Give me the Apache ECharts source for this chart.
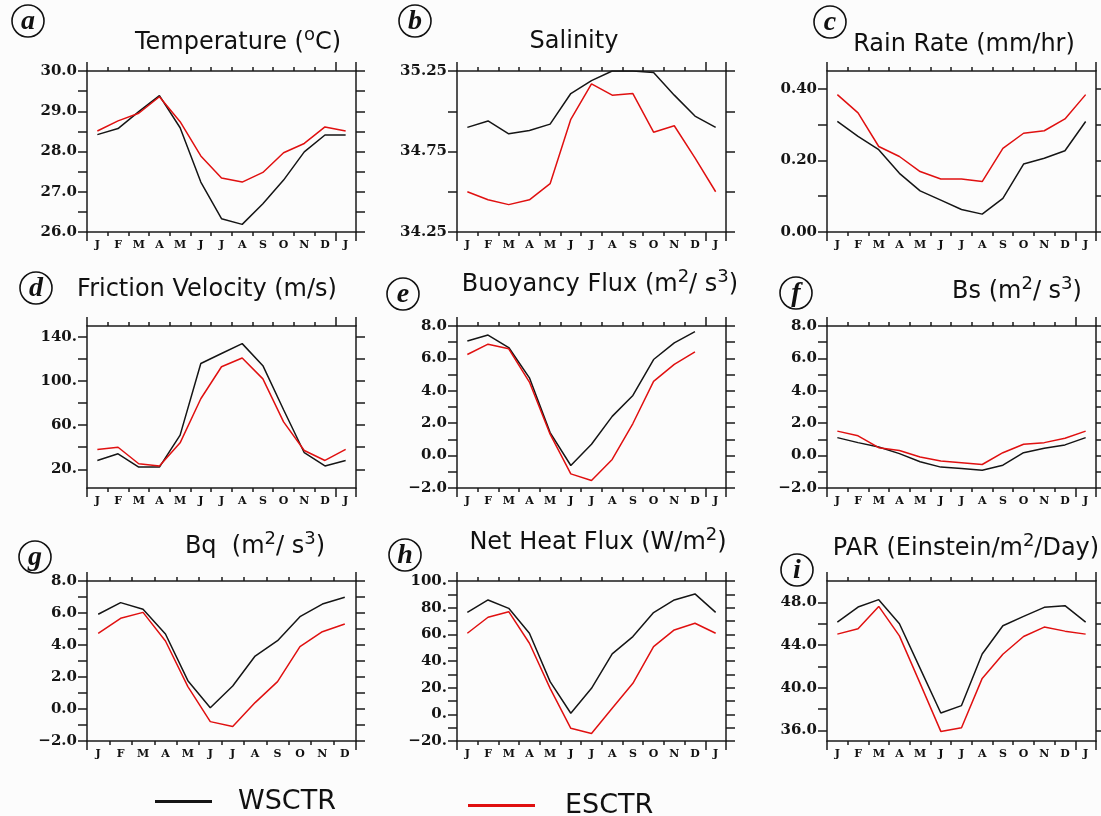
<!DOCTYPE html>
<html><head><meta charset="utf-8">
<script src="https://cdn.jsdelivr.net/npm/echarts@6/dist/echarts.min.js"></script>
<style>html,body{margin:0;padding:0;background:#fcfcfc}#c{width:1101px;height:816px}</style>
</head><body><div id="c"></div>
<script>
// ---------- data ----------
const months13 = ['J','F','M','A','M','J','J','A','S','O','N','D','J'];
const months12 = ['J','F','M','A','M','J','J','A','S','O','N','D'];

const tempW = [28.42, 28.57, 28.99, 29.39, 28.59, 27.24, 26.33, 26.19, 26.70, 27.29, 27.99, 28.41, 28.41];
const tempE = [28.51, 28.76, 28.95, 29.36, 28.74, 27.89, 27.34, 27.24, 27.48, 27.97, 28.20, 28.61, 28.51];
const salW  = [34.90, 34.94, 34.86, 34.88, 34.92, 35.11, 35.19, 35.25, 35.25, 35.24, 35.10, 34.97, 34.90];
const salE  = [34.50, 34.45, 34.42, 34.45, 34.55, 34.95, 35.17, 35.10, 35.11, 34.87, 34.91, 34.71, 34.50];
const rainW = [0.309, 0.267, 0.230, 0.164, 0.115, 0.089, 0.063, 0.050, 0.094, 0.190, 0.206, 0.227, 0.309];
const rainE = [0.384, 0.333, 0.239, 0.211, 0.169, 0.148, 0.148, 0.141, 0.234, 0.276, 0.283, 0.316, 0.384];
const ustarW = [28, 34, 22, 22, 51, 116, 125, 134, 114, 74, 35, 23, 28];
const ustarE = [38, 40, 25, 23, 44, 84, 113, 121, 102, 63, 37, 28, 38];
const buoyW = [7.07, 7.44, 6.67, 4.80, 1.42, -0.61, 0.70, 2.42, 3.71, 5.93, 6.96, 7.65, null];
const buoyE = [6.24, 6.88, 6.59, 4.54, 1.32, -1.13, -1.54, -0.24, 1.98, 4.58, 5.63, 6.40, null];
const bsW = [1.11, 0.80, 0.53, 0.12, -0.38, -0.71, -0.80, -0.90, -0.59, 0.18, 0.45, 0.66, 1.11];
const bsE = [1.51, 1.22, 0.49, 0.32, -0.09, -0.34, -0.44, -0.55, 0.18, 0.70, 0.80, 1.07, 1.51];
const bqW = [5.92, 6.65, 6.23, 4.69, 1.77, 0.08, 1.44, 3.31, 4.27, 5.77, 6.56, 6.98];
const bqE = [4.73, 5.67, 6.04, 4.25, 1.40, -0.79, -1.10, 0.40, 1.71, 3.90, 4.83, 5.31];
const heatW = [76.5, 85.8, 79.5, 60.8, 24.5, 0.8, 19.5, 45.3, 58.3, 76.3, 85.8, 90.3, 76.5];
const heatE = [60.8, 72.8, 77.0, 53.3, 19.5, -10.5, -14.3, 4.5, 23.3, 50.8, 63.3, 68.3, 60.8];
const parW = [46.15, 47.56, 48.25, 45.99, 41.81, 37.63, 38.32, 43.16, 45.80, 46.68, 47.53, 47.69, 46.15];
const parE = [45.02, 45.52, 47.62, 44.86, 40.40, 35.90, 36.25, 40.87, 43.13, 44.80, 45.68, 45.30, 45.02];

// tick values and labelled tick values
const tempTicks = [26, 26.5, 27, 27.5, 28, 28.5, 29, 29.5, 30];
const tempLabels = [26, 27, 28, 29, 30];
const salTicks = [34.25, 34.5, 34.75, 35, 35.25];
const salLabels = [34.25, 34.75, 35.25];
const rainTicks = [0, 0.1, 0.2, 0.3, 0.4];
const rainLabels = [0, 0.2, 0.4];
const ustarTicks = [20, 40, 60, 80, 100, 120, 140];
const ustarLabels = [20, 60, 100, 140];
const fluxTicks = [-2, -1, 0, 1, 2, 3, 4, 5, 6, 7, 8];
const fluxLabels = [-2, 0, 2, 4, 6, 8];
const heatTicks = [-20, -10, 0, 10, 20, 30, 40, 50, 60, 70, 80, 90, 100];
const heatLabels = [-20, 0, 20, 40, 60, 80, 100];
const parTicks = [36, 38, 40, 42, 44, 46, 48];
const parLabels = [36, 40, 44, 48];

const seriesNames = ['WSCTR', 'ESCTR'];

// ---------- layout ----------
const minus = s => s.replace('-', '\u2212');
const f1 = v => minus(v.toFixed(1));
const f2 = v => minus(v.toFixed(2));
const fdot = v => minus(String(v) + '.');

const panels = [
  {left: 87,  top: 71,  h: 161, cats: months13, w: tempW,  e: tempE,  min: 26,    max: 30,    ticks: tempTicks,  labels: tempLabels,  fmt: f1},
  {left: 457, top: 71,  h: 161, cats: months13, w: salW,   e: salE,   min: 34.25, max: 35.25, ticks: salTicks,   labels: salLabels,   fmt: f2},
  {left: 827, top: 71,  h: 161, cats: months13, w: rainW,  e: rainE,  min: 0,     max: 0.45,  ticks: rainTicks,  labels: rainLabels,  fmt: f2},
  {left: 87,  top: 326, h: 162, cats: months13, w: ustarW, e: ustarE, min: 3,     max: 150,   ticks: ustarTicks, labels: ustarLabels, fmt: fdot},
  {left: 457, top: 326, h: 162, cats: months13, w: buoyW,  e: buoyE,  min: -2,    max: 8,     ticks: fluxTicks,  labels: fluxLabels,  fmt: f1},
  {left: 827, top: 326, h: 162, cats: months13, w: bsW,    e: bsE,    min: -2,    max: 8,     ticks: fluxTicks,  labels: fluxLabels,  fmt: f1},
  {left: 87,  top: 581, h: 160, cats: months12, w: bqW,    e: bqE,    min: -2,    max: 8,     ticks: fluxTicks,  labels: fluxLabels,  fmt: f1},
  {left: 457, top: 581, h: 160, cats: months13, w: heatW,  e: heatE,  min: -20,   max: 100,   ticks: heatTicks,  labels: heatLabels,  fmt: fdot},
  {left: 827, top: 581, h: 160, cats: months13, w: parW,   e: parE,   min: 35,    max: 50,    ticks: parTicks,   labels: parLabels,   fmt: f1}
];

const titles = [
  {x: 238, y: 43,  t: 'Temperature ({s|o}C)'},
  {x: 574, y: 42,  t: 'Salinity'},
  {x: 964, y: 45,  t: 'Rain Rate (mm/hr)'},
  {x: 207, y: 290, t: 'Friction Velocity (m/s)'},
  {x: 600, y: 285, t: 'Buoyancy Flux (m{s|2}/ s{s|3})'},
  {x: 1017, y: 292, t: 'Bs (m{s|2}/ s{s|3})'},
  {x: 255, y: 547, t: 'Bq  (m{s|2}/ s{s|3})'},
  {x: 598, y: 543, t: 'Net Heat Flux (W/m{s|2})'},
  {x: 966, y: 549, t: 'PAR (Einstein/m{s|2}/Day)'}
];
const letters = [
  {x: 28, y: 21, t: 'a'}, {x: 415, y: 21, t: 'b'}, {x: 830, y: 22, t: 'c'},
  {x: 36, y: 288, t: 'd'}, {x: 403, y: 294, t: 'e'}, {x: 796, y: 293, t: 'f'},
  {x: 35, y: 557, t: 'g'}, {x: 405, y: 555, t: 'h'}, {x: 797, y: 570, t: 'i'}
];

const AX = '#1a1a1a';
const BLACK = '#151515';
const RED = '#e01010';
const axLine = {show: true, onZero: false, lineStyle: {color: AX, width: 1.5}};
const noLine = {show: false, onZero: false};

const grids = [], xAxes = [], yAxes = [], series = [];
panels.forEach((p, k) => {
  grids.push({left: p.left, top: p.top, width: 269, height: p.h, show: false, containLabel: false});
  const n = p.cats.length;
  const longIdx = (i) => i === 0 || (n === 13 && i === 12);
  const base = {type: 'category', gridIndex: k, data: p.cats, boundaryGap: true, splitLine: {show: false}};
  xAxes.push(Object.assign({}, base, {
    position: 'bottom', axisLine: axLine,
    axisTick: {show: true, interval: 0, length: 4, lineStyle: {color: AX, width: 1.5}},
    axisLabel: {show: true, interval: 0, margin: 8, color: '#111', fontSize: 11, fontFamily: 'DejaVu Serif', fontWeight: 'bold'}
  }));
  xAxes.push(Object.assign({}, base, {
    position: 'top', axisLine: axLine,
    axisTick: {show: true, interval: 0, length: 4, lineStyle: {color: AX, width: 1.5}},
    axisLabel: {show: false}
  }));
  xAxes.push(Object.assign({}, base, {
    position: 'bottom', axisLine: noLine,
    axisTick: {show: true, interval: longIdx, length: 9, lineStyle: {color: AX, width: 1.5}},
    axisLabel: {show: false}
  }));
  xAxes.push(Object.assign({}, base, {
    position: 'top', axisLine: noLine,
    axisTick: {show: true, interval: longIdx, length: 9, lineStyle: {color: AX, width: 1.5}},
    axisLabel: {show: false}
  }));
  yAxes.push({
    type: 'value', gridIndex: k, position: 'left', min: p.min, max: p.max,
    splitLine: {show: false}, axisLine: axLine,
    axisTick: {show: true, customValues: p.ticks, length: 9, lineStyle: {color: AX, width: 1.5}},
    axisLabel: {show: true, customValues: p.labels, formatter: p.fmt, margin: 10, color: '#151515',
      fontSize: 15, fontFamily: 'DejaVu Serif', fontWeight: 'bold'}
  });
  yAxes.push({
    type: 'value', gridIndex: k, position: 'right', min: p.min, max: p.max,
    splitLine: {show: false}, axisLine: axLine,
    axisTick: {show: true, customValues: p.ticks, length: 9, lineStyle: {color: AX, width: 1.5}},
    axisLabel: {show: false}
  });
  [[p.w, seriesNames[0], BLACK], [p.e, seriesNames[1], RED]].forEach(([d, nm, col]) => {
    series.push({
      type: 'line', name: nm, xAxisIndex: 4 * k, yAxisIndex: 2 * k, data: d,
      color: col, showSymbol: false, symbol: 'none', connectNulls: false,
      lineStyle: {color: col, width: 1.5}, z: nm === 'ESCTR' ? 3 : 2
    });
  });
});

const graphic = [];
titles.forEach(t => {
  graphic.push({
    type: 'text', x: t.x, y: t.y, z: 10,
    style: {
      text: t.t, fill: '#111', fontSize: 24, fontFamily: 'DejaVu Sans', lineHeight: 34,
      textAlign: 'center', textVerticalAlign: 'middle',
      rich: {s: {fontSize: 18, fontFamily: 'DejaVu Sans', fill: '#111', lineHeight: 18, verticalAlign: 'top'}}
    }
  });
});
letters.forEach(l => {
  graphic.push({type: 'circle', z: 10, shape: {cx: l.x, cy: l.y, r: 16},
    style: {fill: 'none', stroke: '#111', lineWidth: 1.6}});
  graphic.push({type: 'text', x: l.x, y: l.y + 1, z: 11,
    style: {text: l.t, fill: '#111', font: 'italic bold 28px "Liberation Serif"', textAlign: 'center', textVerticalAlign: 'middle'}});
});

const chart = echarts.init(document.getElementById('c'), null, {renderer: 'canvas'});
chart.setOption({
  backgroundColor: '#fcfcfc',
  animation: false,
  grid: grids, xAxis: xAxes, yAxis: yAxes, series: series,
  legend: [
    {data: [seriesNames[0]], left: 150, top: 783, icon: 'rect', itemWidth: 57, itemHeight: 3,
     textStyle: {fontSize: 27, fontFamily: 'DejaVu Sans', color: '#111', padding: [0, 0, 0, 21]}},
    {data: [seriesNames[1]], left: 463, top: 787, icon: 'rect', itemWidth: 67, itemHeight: 3,
     textStyle: {fontSize: 27, fontFamily: 'DejaVu Sans', color: '#111', padding: [0, 0, 0, 25]}}
  ],
  graphic: graphic
});
</script></body></html>
